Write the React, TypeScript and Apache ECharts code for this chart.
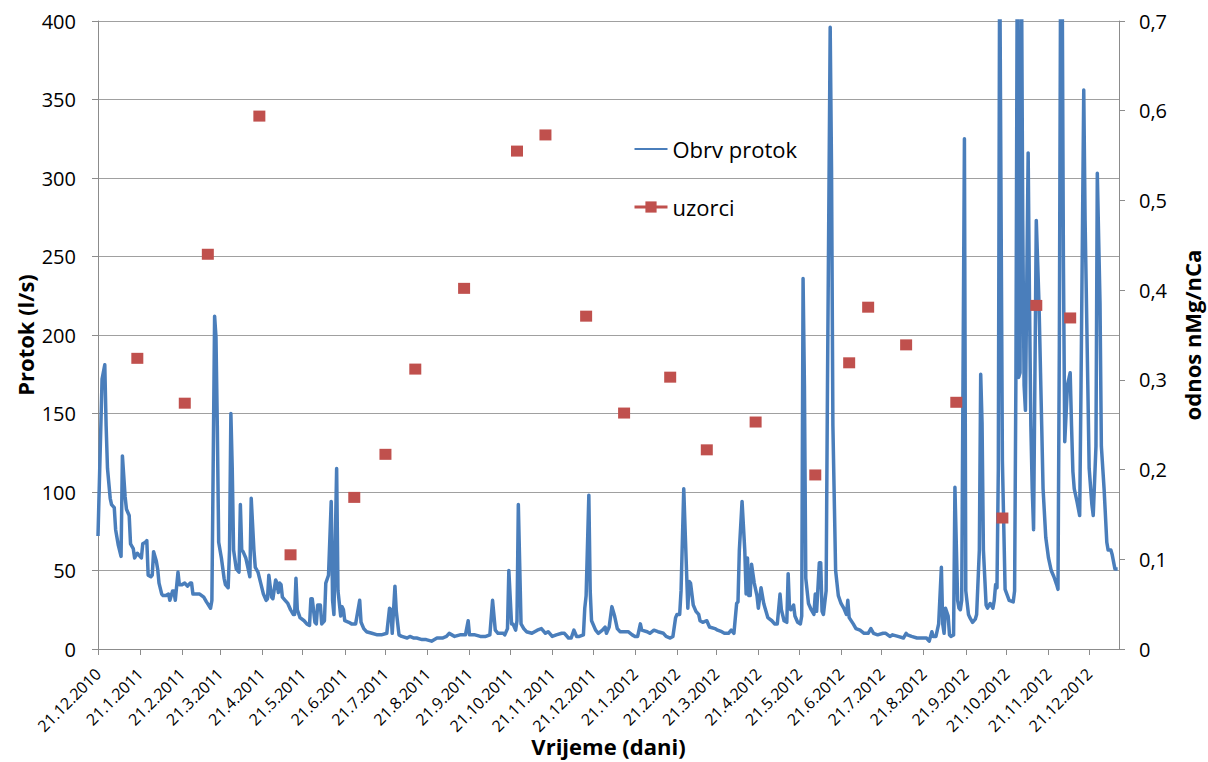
import React, { useEffect, useRef } from 'react';
import * as echarts from 'echarts';

// x axis: days counted from the first tick label (21.12.2010)
const tickLabels = [
  '21.12.2010', '21.1.2011', '21.2.2011', '21.3.2011', '21.4.2011', '21.5.2011', '21.6.2011',
  '21.7.2011', '21.8.2011', '21.9.2011', '21.10.2011', '21.11.2011', '21.12.2011', '21.1.2012',
  '21.2.2012', '21.3.2012', '21.4.2012', '21.5.2012', '21.6.2012', '21.7.2012', '21.8.2012',
  '21.9.2012', '21.10.2012', '21.11.2012', '21.12.2012',
];
const xMaxDay = 753;

// Obrv protok (l/s): [day since 21.12.2010, flow]
const flowPoints: [number, number][] = [
  [0, 72], [3, 172], [5, 181], [6, 142], [7, 115], [9, 96], [10, 92], [12, 90], [13, 76], [15, 66],
  [17, 59], [18, 123], [20, 97], [21, 89], [23, 85], [24, 67], [26, 64], [27, 58], [29, 61], [30, 60],
  [32, 58], [33, 67], [35, 68], [36, 69], [37, 47], [39, 46], [40, 47], [41, 62], [43, 56], [44, 51],
  [45, 42], [47, 35], [48, 34], [50, 34], [52, 35], [53, 31], [55, 37], [56, 37], [57, 31], [59, 49],
  [60, 41], [62, 41], [64, 42], [66, 40], [68, 42], [69, 42], [70, 35], [73, 35], [75, 35], [78, 33],
  [80, 30], [83, 26], [84, 31], [86, 212], [87, 199], [88, 142], [89, 68], [91, 58], [93, 45], [94, 41],
  [96, 39], [97, 63], [98, 150], [99, 115], [100, 63], [102, 51], [104, 49], [105, 92], [106, 63], [107, 62],
  [109, 58], [110, 54], [112, 46], [113, 96], [115, 63], [116, 52], [118, 49], [120, 42], [122, 35], [124, 31],
  [125, 32], [126, 47], [128, 33], [129, 32], [131, 44], [132, 42], [133, 36], [134, 42], [135, 41], [136, 33],
  [138, 31], [140, 29], [142, 25], [144, 22], [145, 22], [146, 45], [147, 25], [149, 20], [152, 18], [154, 16],
  [156, 15], [157, 32], [158, 32], [160, 17], [161, 16], [162, 28], [164, 28], [165, 16], [167, 18], [168, 42],
  [170, 47], [172, 94], [173, 31], [174, 22], [176, 115], [177, 37], [179, 21], [180, 27], [181, 25], [182, 18],
  [185, 17], [187, 16], [190, 16], [191, 21], [193, 31], [194, 17], [196, 13], [198, 11], [202, 10], [206, 9],
  [209, 9], [213, 10], [215, 26], [216, 25], [217, 10], [219, 40], [220, 24], [222, 9], [224, 8], [228, 7],
  [230, 8], [233, 7], [235, 7], [239, 6], [242, 6], [246, 5], [250, 7], [254, 7], [257, 8], [259, 10],
  [261, 9], [263, 8], [267, 9], [271, 9], [273, 18], [274, 9], [278, 9], [282, 8], [286, 8], [289, 9],
  [291, 31], [293, 12], [295, 10], [299, 10], [300, 9], [302, 13], [303, 50], [305, 16], [306, 16], [308, 12],
  [309, 18], [310, 92], [312, 16], [314, 13], [316, 11], [320, 10], [324, 12], [327, 13], [330, 10], [332, 11],
  [335, 8], [338, 9], [342, 10], [344, 10], [347, 7], [349, 7], [351, 12], [353, 8], [355, 8], [358, 9],
  [359, 26], [360, 34], [362, 98], [363, 37], [364, 18], [367, 12], [369, 10], [372, 12], [374, 14], [375, 10],
  [377, 14], [379, 27], [381, 21], [383, 13], [385, 11], [389, 11], [391, 11], [394, 9], [396, 8], [398, 8],
  [400, 16], [401, 12], [405, 11], [407, 10], [410, 12], [413, 11], [417, 10], [419, 8], [422, 7], [424, 8],
  [426, 20], [427, 22], [429, 22], [430, 37], [432, 102], [433, 76], [435, 26], [436, 43], [437, 42], [439, 28],
  [441, 24], [443, 22], [444, 18], [446, 17], [449, 18], [451, 14], [455, 13], [457, 12], [460, 11], [462, 10],
  [465, 10], [467, 12], [469, 10], [471, 29], [472, 30], [473, 63], [475, 94], [477, 63], [478, 35], [479, 58],
  [480, 34], [481, 34], [482, 54], [484, 42], [486, 34], [487, 26], [489, 39], [491, 29], [492, 26], [494, 20],
  [497, 18], [499, 16], [501, 16], [503, 35], [504, 25], [506, 18], [508, 17], [509, 48], [510, 26], [511, 25],
  [513, 28], [514, 21], [516, 17], [518, 16], [519, 21], [520, 236], [521, 168], [522, 45], [524, 29], [526, 25],
  [528, 22], [529, 35], [530, 24], [532, 55], [533, 55], [534, 24], [535, 22], [537, 37], [538, 168], [540, 396],
  [541, 304], [542, 142], [544, 50], [546, 34], [548, 29], [550, 26], [552, 22], [553, 31], [554, 20], [557, 16],
  [559, 13], [562, 12], [565, 10], [568, 10], [570, 13], [572, 10], [575, 9], [579, 10], [581, 10], [584, 8],
  [586, 9], [590, 8], [594, 7], [596, 10], [597, 9], [600, 8], [604, 7], [607, 7], [611, 7], [613, 5],
  [615, 11], [616, 8], [618, 8], [620, 16], [622, 52], [623, 16], [624, 10], [625, 26], [627, 21], [628, 9],
  [629, 8], [631, 9], [632, 103], [634, 31], [635, 26], [636, 25], [637, 31], [639, 325], [640, 37], [642, 22],
  [643, 20], [645, 17], [647, 19], [648, 22], [650, 63], [651, 175], [652, 144], [653, 63], [655, 28], [656, 26],
  [658, 29], [660, 26], [661, 31], [662, 41], [663, 39], [664, 115], [665, 450], [667, 120], [669, 38], [672, 31],
  [675, 30], [676, 37], [677, 178], [678, 450], [679, 173], [680, 176], [681, 450], [682, 273], [683, 168], [684, 152],
  [686, 316], [687, 220], [688, 142], [689, 102], [690, 76], [692, 273], [694, 220], [696, 142], [697, 102], [699, 71],
  [701, 58], [703, 50], [705, 46], [707, 41], [708, 38], [709, 194], [710, 450], [711, 450], [712, 247], [713, 132],
  [715, 168], [717, 176], [718, 142], [719, 113], [720, 102], [722, 94], [724, 85], [725, 168], [727, 356], [728, 273],
  [730, 168], [731, 115], [733, 92], [734, 85], [736, 129], [737, 303], [739, 220], [740, 129], [742, 102], [744, 68],
  [745, 63], [747, 63], [748, 60], [750, 51], [752, 51],
];

// uzorci (odnos nMg/nCa)
const sampleDays = [29, 64, 81, 119, 142, 189, 212, 234, 270, 309, 330, 360, 388, 422, 449, 485, 529, 554, 568, 596, 633, 667, 692, 717];
const sampleRatios = [0.324, 0.274, 0.44, 0.594, 0.105, 0.169, 0.217, 0.312, 0.402, 0.555, 0.573, 0.371, 0.263, 0.303, 0.222, 0.253, 0.194, 0.319, 0.381, 0.339, 0.275, 0.146, 0.383, 0.369];

const FONT = '"Open Sans", "Noto Sans", sans-serif';
const BLUE = '#4A7EBB';
const RED = '#C0504D';
const AXIS_GREY = '#8c8c8c';

function parseDate(s: string) {
  const [d, m, y] = s.split('.').map(Number);
  return Date.UTC(y, m - 1, d);
}
const t0 = parseDate(tickLabels[0]);
const tickDays = tickLabels.map((s) => Math.round((parseDate(s) - t0) / 86400000));

export default function App() {
  const ref = useRef<HTMLDivElement>(null);
  useEffect(() => {
    if (!ref.current) return;
    const chart = echarts.init(ref.current, undefined, { renderer: 'svg' });
    chart.setOption({
      animation: false,
      backgroundColor: '#ffffff',
      grid: { left: 98, right: 89, top: 21, bottom: 113, containLabel: false, outerBoundsMode: 'none' },
      legend: {
        orient: 'vertical',
        left: 628,
        top: 133,
        itemWidth: 33,
        itemHeight: 14,
        itemGap: 36,
        textStyle: { fontFamily: FONT, fontSize: 22, color: '#000' },
        data: [
          { name: 'Obrv protok', itemStyle: { opacity: 0 } },
          { name: 'uzorci', lineStyle: { width: 3, color: RED, opacity: 1 } },
        ],
      },
      xAxis: {
        type: 'value',
        min: 0,
        max: xMaxDay,
        name: 'Vrijeme (dani)',
        nameLocation: 'middle',
        nameGap: 86,
        nameMoveOverlap: false,
        nameTextStyle: { fontFamily: FONT, fontSize: 22, fontWeight: 'bold', color: '#000' },
        splitLine: { show: false },
        axisLine: { show: true, lineStyle: { color: AXIS_GREY, width: 1 } },
        axisTick: { show: true, length: 6, customValues: tickDays, lineStyle: { color: AXIS_GREY } },
        axisLabel: {
          customValues: tickDays,
          rotate: 45,
          margin: 22,
          fontFamily: FONT,
          fontSize: 16,
          color: '#000',
          formatter: (v: number) => {
            const i = tickDays.indexOf(Math.round(v));
            return i >= 0 ? tickLabels[i] : '';
          },
        },
      },
      yAxis: [
        {
          type: 'value',
          min: 0,
          max: 400,
          interval: 50,
          name: 'Protok (l/s)',
          nameLocation: 'middle',
          nameGap: 62,
          nameMoveOverlap: false,
          nameTextStyle: { fontFamily: FONT, fontSize: 22, fontWeight: 'bold', color: '#000' },
          axisLine: { show: true, lineStyle: { color: AXIS_GREY, width: 1 } },
          axisTick: { show: true, length: 6, lineStyle: { color: AXIS_GREY } },
          axisLabel: { margin: 22, fontFamily: FONT, fontSize: 20, color: '#000' },
          splitLine: { show: true, lineStyle: { color: '#a0a0a0', width: 1 } },
        },
        {
          type: 'value',
          min: 0,
          max: 0.7,
          interval: 0.1,
          position: 'right',
          name: 'odnos nMg/nCa',
          nameLocation: 'middle',
          nameGap: 62,
          nameMoveOverlap: false,
          nameTextStyle: { fontFamily: FONT, fontSize: 22, fontWeight: 'bold', color: '#000' },
          axisLine: { show: true, lineStyle: { color: AXIS_GREY, width: 1 } },
          axisTick: { show: true, length: 6, lineStyle: { color: AXIS_GREY } },
          axisLabel: {
            margin: 20,
            fontFamily: FONT,
            fontSize: 20,
            color: '#000',
            formatter: (v: number) => (v === 0 ? '0' : v.toFixed(1).replace('.', ',')),
          },
          splitLine: { show: false },
        },
      ],
      series: [
        {
          name: 'Obrv protok',
          type: 'line',
          yAxisIndex: 0,
          data: flowPoints,
          symbol: 'none',
          clip: true,
          lineStyle: { color: BLUE, width: 3.5, join: 'round' },
          itemStyle: { color: BLUE },
        },
        {
          name: 'uzorci',
          type: 'line',
          yAxisIndex: 1,
          data: sampleDays.map((d, i) => [d, sampleRatios[i]]),
          symbol: 'rect',
          symbolSize: [12, 11],
          showSymbol: true,
          lineStyle: { width: 0, color: RED },
          itemStyle: { color: RED },
          z: 3,
        },
      ],
    });
    return () => chart.dispose();
  }, []);
  return (
    <div
      ref={ref}
      style={{ position: 'fixed', left: 0, top: 0, width: 1208, height: 762, background: '#fff' }}
    />
  );
}
